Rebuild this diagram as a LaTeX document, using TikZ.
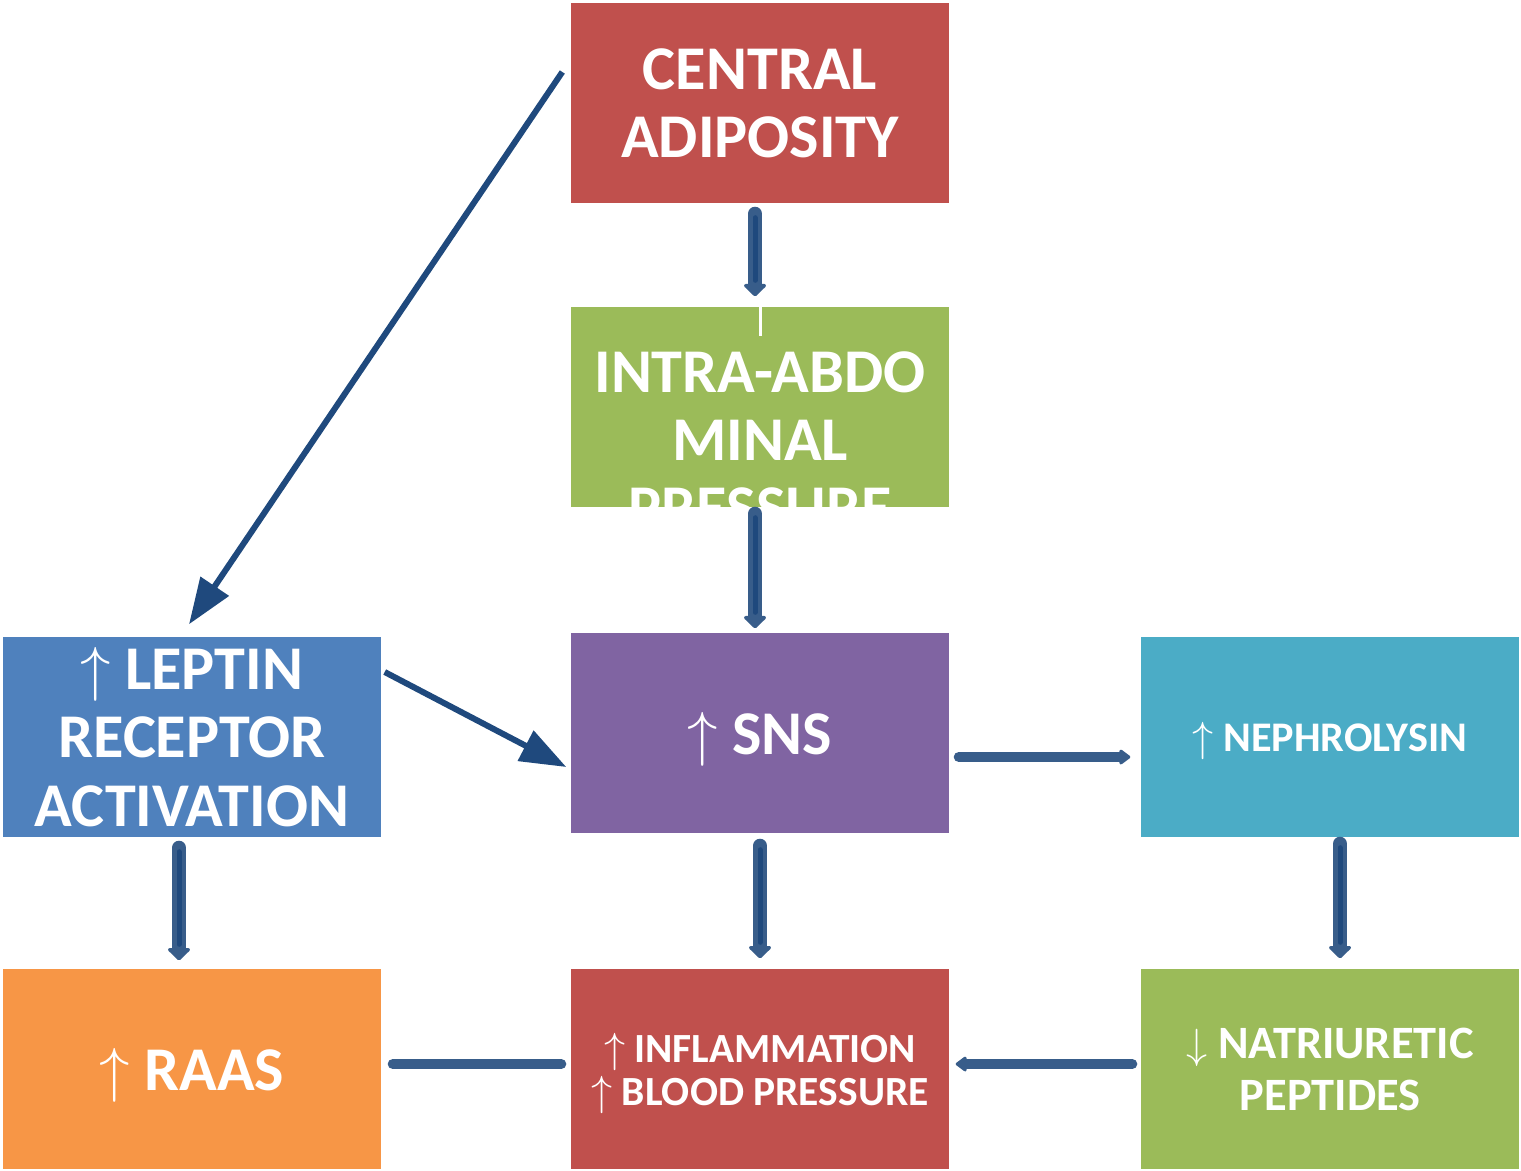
\documentclass[tikz,border=0pt]{standalone}
\usepackage{fontspec}
\setmainfont{Carlito}
\usetikzlibrary{arrows.meta}
\definecolor{redbox}{HTML}{C0504D}
\definecolor{greenbox}{HTML}{9BBB59}
\definecolor{purplebox}{HTML}{8064A2}
\definecolor{bluebox}{HTML}{4F81BD}
\definecolor{tealbox}{HTML}{4BACC6}
\definecolor{orangebox}{HTML}{F79646}
\definecolor{arrowblue}{HTML}{385D8A}
\definecolor{darkblue}{HTML}{1F497D}
\begin{document}
\begin{tikzpicture}[x=0.1mm,y=-0.1mm]
	\tikzstyle{every node}+=[inner sep=0pt]
	\tikzstyle{box}=[rectangle, minimum width=37.8mm, minimum height=20mm, text=white, align=center, font=\fontsize{17.7}{19.4}\selectfont\bfseries]
	\tikzstyle{fat}=[draw=arrowblue, line width=1.4mm, line cap=round, -{Triangle[length=1.3mm, width=2.6mm, round]}, postaction={draw=darkblue, line width=0.5mm, -, shorten >=1.6mm, shorten <=0.4mm}]
	\tikzstyle{flat}=[draw=arrowblue, line width=1mm, line cap=round, -{Triangle[length=1.2mm, width=1.7mm, round]}]
	\tikzstyle{pointer}=[draw=darkblue, line width=0.6mm, -{Triangle[length=4.6mm, width=3.3mm]}]
	\useasboundingbox (0,0) rectangle (1521,1170);
	\node [box, fill=redbox] (cen) at (760,103) {CENTRAL\\ADIPOSITY};
	\node [box, fill=greenbox, path picture={\node [box] at ([shift={(0,33)}]path picture bounding box.center) {INTRA-ABDO\\MINAL\\PRESSURE};}] (intra) at (760,407) {};
	\draw [white, line width=0.3mm] (intra.north) -- ++(0,30);
	\node [box, fill=bluebox] (lep) at (192,737) {$\uparrow$ LEPTIN\\RECEPTOR\\ACTIVATION};
	\node [box, fill=purplebox, text depth=0pt] (sns) at (760,733) {$\uparrow$ SNS};
	\node [box, fill=tealbox, text depth=0pt, font=\fontsize{12}{14}\selectfont\bfseries] (neph) at (1330,737) {$\uparrow$ NEPHROLYSIN};
	\node [box, fill=orangebox, text depth=0pt] (raas) at (192,1069) {$\uparrow$ RAAS};
	\node [box, fill=redbox, text depth=0pt, font=\fontsize{11.8}{12.2}\selectfont\bfseries] (infl) at (760,1069) {$\uparrow$ INFLAMMATION\\$\uparrow$ BLOOD PRESSURE};
	\node [box, fill=greenbox, font=\fontsize{13.2}{14.8}\selectfont\bfseries] (nat) at (1330,1069) {$\downarrow$ NATRIURETIC\\PEPTIDES};
	% down the middle and the sides
	\draw [fat] ([shift={(-5,10)}]cen.south) -- ([shift={(-5,-10)}]intra.north);
	\draw [fat] ([shift={(-5,6)}]intra.south) -- ([shift={(-5,-4)}]sns.north);
	\draw [fat] ([shift={(0,12)}]sns.south) -- ([shift={(0,-10)}]infl.north);
	\draw [fat] ([shift={(-13,10)}]lep.south) -- ([shift={(-13,-8)}]raas.north);
	\draw [fat] ([shift={(10,6)}]neph.south) -- ([shift={(10,-10)}]nat.north);
	% across
	\draw [flat] ([shift={(9,24)}]sns.east) -- ([shift={(-10,20)}]neph.west);
	\draw [flat] ([shift={(-8,-5)}]nat.west) -- ([shift={(6,-5)}]infl.east);
	\draw [flat, -] ([shift={(11,-5)}]raas.east) -- ([shift={(-9,-5)}]infl.west);
	% slanted
	\draw [pointer] ([shift={(-8,-31)}]cen.west) -- ([shift={(-3,-12)}]lep.north);
	\draw [pointer] ([shift={(3,-65)}]lep.east) -- ([shift={(-4,34)}]sns.west);
\end{tikzpicture}
\end{document}
